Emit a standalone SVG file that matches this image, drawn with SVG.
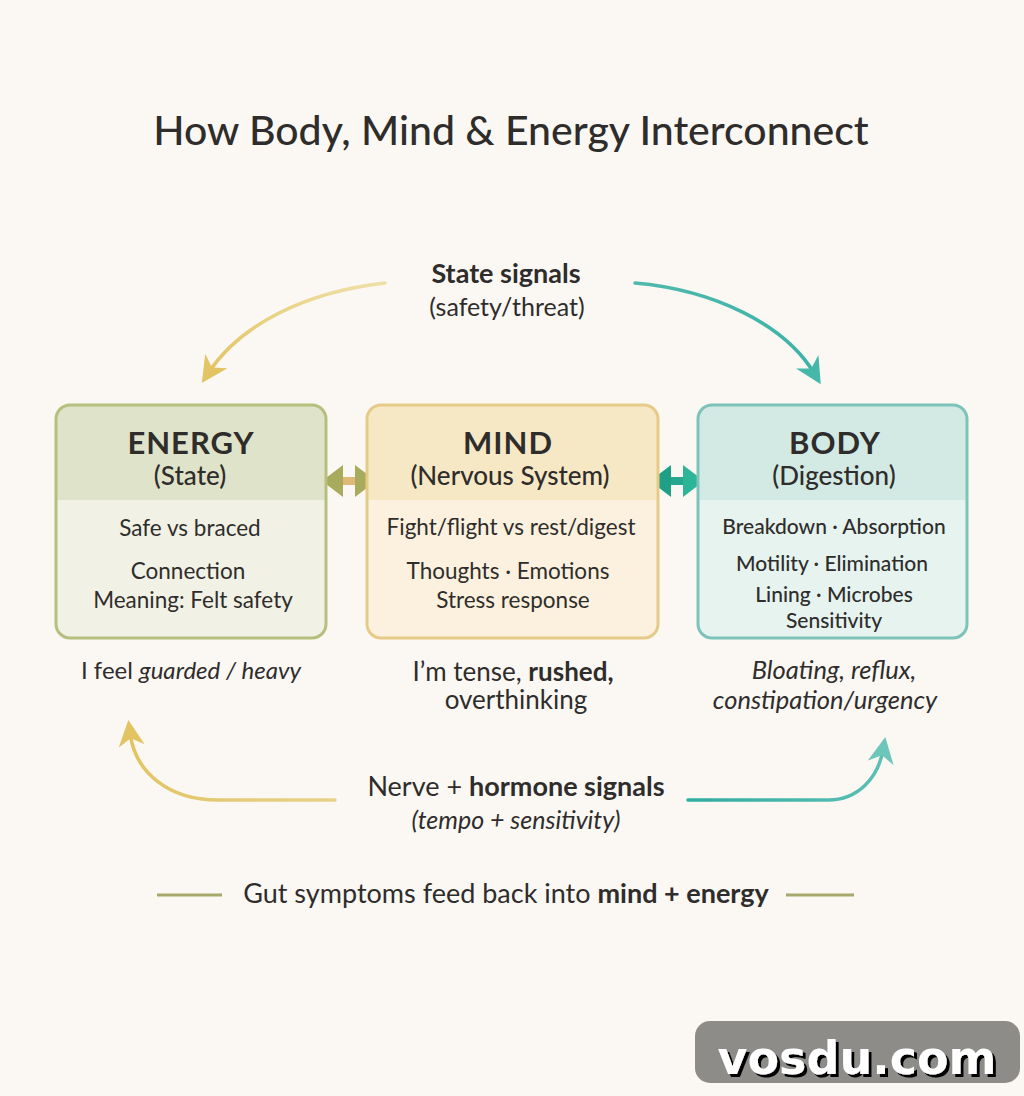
<svg xmlns="http://www.w3.org/2000/svg" width="1024" height="1096" viewBox="0 0 1024 1096">
<defs>
<style>
text{font-family:Lato,"Open Sans","Liberation Sans",sans-serif;fill:#2f2d2b;text-anchor:middle}
.title{font-size:41px;font-weight:500}
.h1{font-size:31px;font-weight:700;letter-spacing:1px}
.h2{font-size:26px;font-weight:500}
.b{font-size:22.5px}
.bs{font-size:21px;font-weight:500}
.cap{font-size:24px}
.lab{font-size:27px}
.sub{font-size:25px}
.bold{font-weight:700}
.it{font-style:italic}
.conn{fill:none;stroke-width:3.5;stroke-linecap:round}
</style>
<linearGradient id="gY1" x1="1" y1="0" x2="0" y2="1"><stop offset="0" stop-color="#efe0a6"/><stop offset="1" stop-color="#e2c463"/></linearGradient>
<linearGradient id="gT1" x1="0" y1="0" x2="1" y2="1"><stop offset="0" stop-color="#4fb8ac"/><stop offset="1" stop-color="#3bb3a6"/></linearGradient>
<linearGradient id="gY2" x1="1" y1="0" x2="0" y2="0"><stop offset="0" stop-color="#e7d28a"/><stop offset="1" stop-color="#e2c463"/></linearGradient>
<linearGradient id="gT2" x1="0" y1="0" x2="1" y2="0"><stop offset="0" stop-color="#2fada0"/><stop offset="1" stop-color="#5cc0b3"/></linearGradient>
<marker id="mY" viewBox="0 0 10 10" refX="5" refY="5" markerWidth="7.5" markerHeight="7.5" orient="auto" markerUnits="strokeWidth"><path d="M0,0 L10,5 L0,10 L3,5 Z" fill="#e2c463"/></marker>
<marker id="mT" viewBox="0 0 10 10" refX="5" refY="5" markerWidth="7.5" markerHeight="7.5" orient="auto" markerUnits="strokeWidth"><path d="M0,0 L10,5 L0,10 L3,5 Z" fill="#46b8aa"/></marker>
<marker id="mT2" viewBox="0 0 10 10" refX="5" refY="5" markerWidth="7.5" markerHeight="7.5" orient="auto" markerUnits="strokeWidth"><path d="M0,0 L10,5 L0,10 L3,5 Z" fill="#6cc6b9"/></marker>
<filter id="shadow" x="-10%" y="-20%" width="130%" height="150%"><feDropShadow dx="3" dy="3" stdDeviation="0.6" flood-color="#000" flood-opacity="1"/></filter>
</defs>
<rect width="1024" height="1096" fill="#fbf8f4"/>
<text class="title" x="511" y="145">How Body, Mind &amp; Energy Interconnect</text>

<g id="connectors">
<path class="conn" d="M385,283 C305,292 240,325 209,372" stroke="url(#gY1)" marker-end="url(#mY)"/>
<path class="conn" d="M635,283 C715,290 785,325 814,373" stroke="url(#gT1)" marker-end="url(#mT)"/>
<path class="conn" d="M335,800 L218,800 C168,800 135,772 130,733" stroke="url(#gY2)" marker-end="url(#mY)"/>
<path class="conn" d="M688,800 L828,800 C858,800 878,778 883,750" stroke="url(#gT2)" marker-end="url(#mT2)"/>
<g id="link-energy-mind">
<path d="M316,481 L335,462 L342,462 L342,474 L356,474 L356,462 L363,462 L382,481 L363,500 L356,500 L356,488 L342,488 L342,500 L335,500 Z" fill="#fbf8f4"/>
<rect x="338" y="477" width="22" height="8" fill="#dfb977"/>
<path d="M322,481 L343,465 L343,497 Z" fill="#a8aa5c"/>
<path d="M376,481 L355,465 L355,497 Z" fill="#a8aa5c"/>
</g>
<g id="link-mind-body">
<path d="M644,481 L663,462 L670,462 L670,474 L684,474 L684,462 L691,462 L710,481 L691,500 L684,500 L684,488 L670,488 L670,500 L663,500 Z" fill="#fbf8f4"/>
<rect x="666" y="477" width="22" height="8" fill="#25a88f"/>
<path d="M650,481 L671,465 L671,497 Z" fill="#1f9f85"/>
<path d="M704,481 L683,465 L683,497 Z" fill="#2eb496"/>
</g>
</g>

<g id="energy">
<rect x="56" y="405" width="270" height="233" rx="14" fill="#f1f1e5"/>
<path d="M70,405 H312 A14,14 0 0 1 326,419 V500 H56 V419 A14,14 0 0 1 70,405 Z" fill="#dfe3c9"/>
<rect x="56" y="405" width="270" height="233" rx="14" fill="none" stroke="#b5bf7e" stroke-width="3"/>
<text class="h1" x="191" y="454">ENERGY</text>
<text class="h2" x="190" y="485">(State)</text>
<text class="b" x="190" y="536">Safe vs braced</text>
<text class="b" x="188" y="579">Connection</text>
<text class="b" x="193" y="608">Meaning: Felt safety</text>
</g>

<g id="mind">
<rect x="367" y="405" width="291" height="233" rx="14" fill="#fbf1de"/>
<path d="M381,405 H644 A14,14 0 0 1 658,419 V500 H367 V419 A14,14 0 0 1 381,405 Z" fill="#f7e8c5"/>
<rect x="367" y="405" width="291" height="233" rx="14" fill="none" stroke="#e6cb88" stroke-width="3"/>
<text class="h1" x="508" y="454">MIND</text>
<text class="h2" x="510" y="485">(Nervous System)</text>
<text class="b" x="511" y="535">Fight/flight vs rest/digest</text>
<text class="b" x="508" y="579">Thoughts · Emotions</text>
<text class="b" x="513" y="608">Stress response</text>
</g>

<g id="body">
<rect x="698" y="405" width="269" height="233" rx="14" fill="#e6f3ef"/>
<path d="M712,405 H953 A14,14 0 0 1 967,419 V500 H698 V419 A14,14 0 0 1 712,405 Z" fill="#d3eae4"/>
<rect x="698" y="405" width="269" height="233" rx="14" fill="none" stroke="#7ec3b9" stroke-width="3"/>
<text class="h1" x="835" y="454">BODY</text>
<text class="h2" x="834" y="485">(Digestion)</text>
<text class="bs" x="834" y="534">Breakdown · Absorption</text>
<text class="bs" x="832" y="571">Motility · Elimination</text>
<text class="bs" x="834" y="602">Lining · Microbes</text>
<text class="bs" x="834" y="628">Sensitivity</text>
</g>

<g id="captions">
<text class="cap" x="191" y="679">I feel <tspan class="it">guarded / heavy</tspan></text>
<text class="cap" x="513" y="681" style="font-size:26px">I’m tense, <tspan class="bold">rushed,</tspan></text>
<text class="cap" x="516" y="709" style="font-size:26px">overthinking</text>
<text class="cap it" x="834" y="679" style="font-size:25.5px">Bloating, reflux,</text>
<text class="cap it" x="825" y="709" style="font-size:25.5px">constipation/urgency</text>
</g>

<g id="state-signals">
<text class="lab bold" x="506" y="283">State signals</text>
<text class="sub" x="507" y="316">(safety/threat)</text>
</g>

<g id="nerve-signals">
<text class="lab" x="516" y="796">Nerve + <tspan class="bold">hormone signals</tspan></text>
<text class="sub it" x="516" y="829">(tempo + sensitivity)</text>
</g>

<g id="footer">
<line x1="157" y1="895" x2="222" y2="895" stroke="#a6a96a" stroke-width="3"/>
<line x1="786" y1="895" x2="854" y2="895" stroke="#a6a96a" stroke-width="3"/>
<text class="lab" x="506" y="903">Gut symptoms feed back into <tspan class="bold">mind + energy</tspan></text>
</g>

<g id="watermark">
<rect x="695" y="1021" width="325" height="62" rx="15" fill="#8e8c88"/>
<text x="857" y="1074" filter="url(#shadow)" style="font-family:'DejaVu Sans',sans-serif;font-size:46px;font-weight:700;fill:#fff">vosdu.com</text>
</g>
</svg>
